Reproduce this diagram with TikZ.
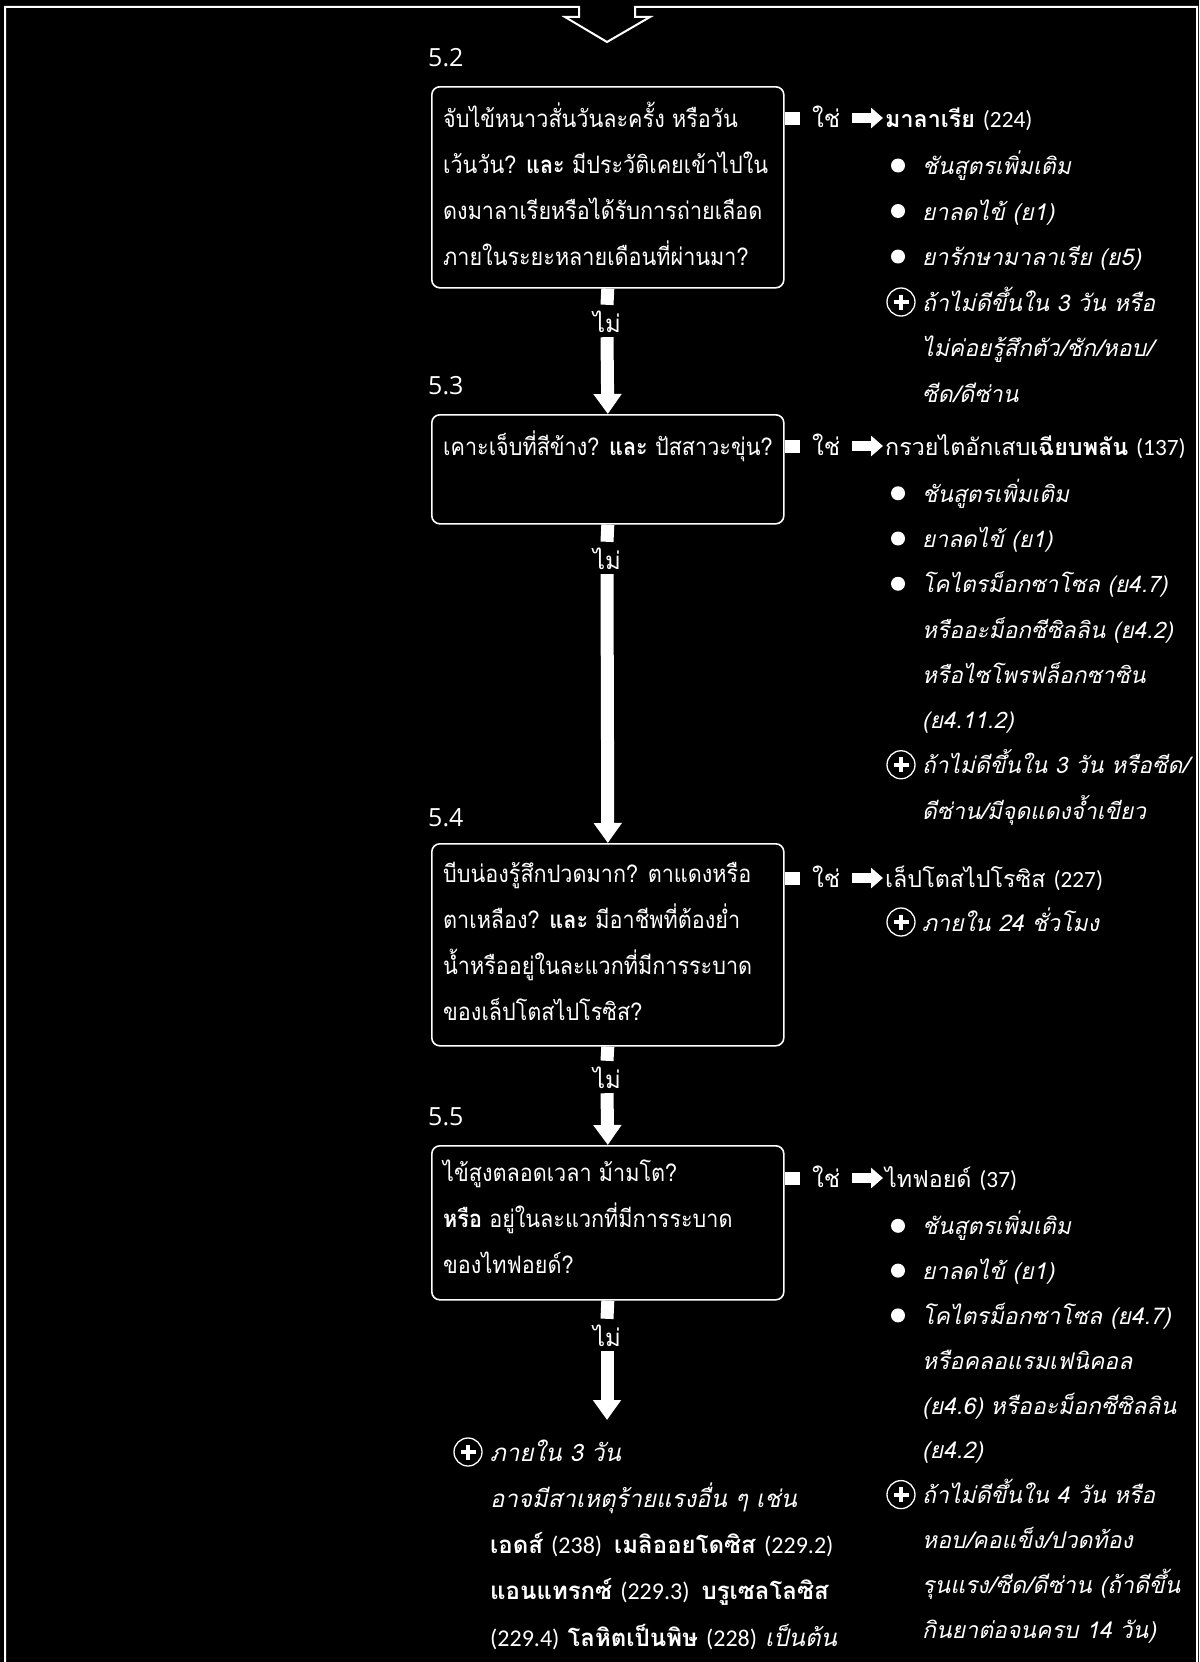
\documentclass[tikz,border=0pt]{standalone}
\usepackage{fontspec}
\setmainfont{Loma}[Script=Thai]
\newfontfamily\boxfont{Loma}[Script=Thai,FakeStretch=0.9]
\newfontfamily\numfont{Carlito}
\newfontfamily\secfont{Open Sans}
\usetikzlibrary{arrows.meta}

\newcommand\bodyfont{\fontsize{24}{46}\selectfont}
\newcommand\headfont{\fontsize{23.3}{46}\selectfont}
\newcommand\qfont{\boxfont\fontsize{24}{46}\selectfont}
\newcommand\nref[1]{{\numfont\upshape\mdseries #1}}
\newcommand\stack[2]{\parbox[t]{#1}{\raggedright #2}}

\begin{document}
\begin{tikzpicture}[x=1pt,y=-1pt,
  every node/.style={text=white,inner sep=0pt},
  ln/.style={anchor=west,text height=18pt,text depth=0pt},
  frameline/.style={draw=white,line width=2pt},
  qbox/.style={draw=white,line width=1.6pt,rounded corners=8pt,
    minimum width=352pt,anchor=north west},
  secno/.style={anchor=west,text height=17pt,text depth=0pt,
    font=\secfont\fontsize{25}{30}\selectfont},
  nolab/.style={font=\bodyfont,text height=22pt,text depth=0pt,inner ysep=5pt},
  yeslab/.style={ln,font=\bodyfont,inner xsep=12pt},
  shaft/.style={draw=white,line width=13pt},
  downarrow/.style={shaft,-{Triangle[width=27pt,length=20pt]}},
  yesarrow/.style={draw=white,line width=10pt,shorten >=2pt,
    -{Triangle[width=20pt,length=12pt]}},
  dot/.style={circle,fill=white,minimum size=14pt},
  plusmark/.style={circle,draw=white,line width=1.3pt,minimum size=28pt,
    path picture={\draw[white,line width=4pt]
      ([xshift=-7.5pt]path picture bounding box.center) -- ([xshift=7.5pt]path picture bounding box.center)
      ([yshift=-7.5pt]path picture bounding box.center) -- ([yshift=7.5pt]path picture bounding box.center);}},
  listA/.style={font=\fontsize{23}{45.5}\selectfont\itshape},
  listB/.style={font=\fontsize{22.7}{45.25}\selectfont\itshape},
  listD/.style={font=\fontsize{23}{44.8}\selectfont\itshape},
]
% page background and outer frame with the entry chevron
\fill[black] (0,0) rectangle (1199,1662);
\useasboundingbox (0,0) rectangle (1199,1662);
\draw[frameline] (5,1662) -- (5,7) -- (579,7) -- (579,17) -- (565,17) -- (607,42)
  -- (650,17) -- (635,17) -- (635,7) -- (1197,7) -- (1197,1662);

% question boxes
\node[qbox,minimum height=201pt] (q52) at (431,86) {};
\node[qbox,minimum height=109pt] (q53) at (431,414) {};
\node[qbox,minimum height=202pt] (q54) at (431,843) {};
\node[qbox,minimum height=154pt] (q55) at (431,1145) {};

% step numbers
\node[secno] (s52) at (428,58) {5.2};
\node[secno] (s53) at (428,386) {5.3};
\node[secno] (s54) at (428,818) {5.4};
\node[secno] (s55) at (428,1117) {5.5};

% question texts
\node[ln,font=\qfont] (t52) at (443,118) {\stack{400pt}{จับไข้หนาวสั่นวันละครั้ง หรือวัน\\
  เว้นวัน? \textbf{และ} มีประวัติเคยเข้าไปใน\\
  ดงมาลาเรียหรือได้รับการถ่ายเลือด\\
  ภายในระยะหลายเดือนที่ผ่านมา?}};
\node[ln,font=\qfont] (t53) at (443,446) {เคาะเจ็บที่สีข้าง? \textbf{และ} ปัสสาวะขุ่น?};
\node[ln,font=\qfont] (t54) at (443,873) {\stack{400pt}{บีบน่องรู้สึกปวดมาก? ตาแดงหรือ\\
  ตาเหลือง? \textbf{และ} มีอาชีพที่ต้องย่ำ\\
  น้ำหรืออยู่ในละแวกที่มีการระบาด\\
  ของเล็ปโตสไปโรซิส?}};
\node[ln,font=\qfont] (t55) at (443,1172) {\stack{400pt}{ไข้สูงตลอดเวลา ม้ามโต?\\
  \textbf{หรือ} อยู่ในละแวกที่มีการระบาด\\
  ของไทฟอยด์?}};

% "no" path down the middle
\node[nolab] (n52) at (607,321) {ไม่};
\node[nolab] (n53) at (607,558) {ไม่};
\node[nolab] (n54) at (607,1077) {ไม่};
\node[nolab] (n55) at (607,1335) {ไม่};
\coordinate (nend) at (607,1420);
\draw[shaft] (q52.south) -- (n52.north);
\draw[downarrow] (n52.south) -- (q53.north);
\draw[shaft] (q53.south) -- (n53.north);
\draw[downarrow] (n53.south) -- (q54.north);
\draw[shaft] (q54.south) -- (n54.north);
\draw[downarrow] (n54.south) -- (q55.north);
\draw[shaft] (q55.south) -- (n55.north);
\draw[downarrow] (n55.south) -- (nend);

% "yes" branches
\node[yeslab] (y52) at (800,118) {ใช่};
\node[yeslab] (y53) at (800,446) {ใช่};
\node[yeslab] (y54) at (800,878) {ใช่};
\node[yeslab] (y55) at (800,1178) {ใช่};
\node[ln,font=\headfont] (h52) at (885,118) {\textbf{มาลาเรีย} \nref{(224)}};
\node[ln,font=\headfont] (h53) at (885,446) {กรวยไตอักเสบ\textbf{เฉียบพลัน} \nref{(137)}};
\node[ln,font=\headfont] (h54) at (885,878) {เล็ปโตสไปโรซิส \nref{(227)}};
\node[ln,font=\headfont] (h55) at (885,1178) {ไทฟอยด์ \nref{(37)}};
\foreach \k in {52,53,54,55}{
  \draw[shaft] (y\k.west -| q\k.east) -- (y\k.west);
  \draw[yesarrow] (y\k.east) -- (y\k.east -| h\k.west);
}

% advice list for 5.2
\begin{scope}[every node/.append style={listA}]
\node[dot] (d521) at (898,165.5) {};
\node[ln] (i521) at (922,165.5) {ชันสูตรเพิ่มเติม};
\node[dot] (d522) at (898,211) {};
\node[ln] (i522) at (922,211) {ยาลดไข้ (ย1)};
\node[dot] (d523) at (898,256.5) {};
\node[ln] (i523) at (922,256.5) {ยารักษามาลาเรีย (ย5)};
\node[plusmark] (p52) at (901,302) {};
\node[ln] (i524) at (922,302) {\stack{330pt}{ถ้าไม่ดีขึ้นใน 3 วัน หรือ\\
  ไม่ค่อยรู้สึกตัว/ชัก/หอบ/\\ซีด/ดีซ่าน}};
\end{scope}

% advice list for 5.3
\begin{scope}[every node/.append style={listB}]
\node[dot] (d531) at (898,493.25) {};
\node[ln] (i531) at (922,493.25) {ชันสูตรเพิ่มเติม};
\node[dot] (d532) at (898,538.5) {};
\node[ln] (i532) at (922,538.5) {ยาลดไข้ (ย1)};
\node[dot] (d533) at (898,583.75) {};
\node[ln] (i533) at (922,583.75) {\stack{330pt}{โคไตรม็อกซาโซล (ย4.7)\\
  หรืออะม็อกซีซิลลิน (ย4.2)\\หรือไซโพรฟล็อกซาซิน\\(ย4.11.2)}};
\node[plusmark] (p53) at (901,764.75) {};
\node[ln] (i534) at (922,764.75) {\stack{330pt}{ถ้าไม่ดีขึ้นใน 3 วัน หรือซีด/\\
  ดีซ่าน/มีจุดแดงจ้ำเขียว}};
\end{scope}

% advice list for 5.4
\node[plusmark] (p54) at (901,922) {};
\node[ln,listA] (i541) at (922,922) {ภายใน 24 ชั่วโมง};

% advice list for 5.5
\begin{scope}[every node/.append style={listD}]
\node[dot] (d551) at (898,1225.8) {};
\node[ln] (i551) at (922,1225.8) {ชันสูตรเพิ่มเติม};
\node[dot] (d552) at (898,1270.6) {};
\node[ln] (i552) at (922,1270.6) {ยาลดไข้ (ย1)};
\node[dot] (d553) at (898,1315.4) {};
\node[ln] (i553) at (922,1315.4) {\stack{330pt}{โคไตรม็อกซาโซล (ย4.7)\\
  หรือคลอแรมเฟนิคอล\\(ย4.6) หรืออะม็อกซีซิลลิน\\(ย4.2)}};
\node[plusmark] (p55) at (901,1494.6) {};
\node[ln] (i554) at (922,1494.6) {\stack{330pt}{ถ้าไม่ดีขึ้นใน 4 วัน หรือ\\
  หอบ/คอแข็ง/ปวดท้อง\\รุนแรง/ซีด/ดีซ่าน (ถ้าดีขึ้น\\กินยาต่อจนครบ 14 วัน)}};
\end{scope}

% outcome when every answer is no
\node[plusmark] (pend) at (468,1452) {};
\node[ln,font=\fontsize{24}{46.25}\selectfont] (tend) at (490,1452) {\stack{380pt}{\textit{ภายใน 3 วัน}\\
  \textit{อาจมีสาเหตุร้ายแรงอื่น ๆ เช่น}\\
  \textbf{เอดส์} \nref{(238)}\enspace\textbf{เมลิออยโดซิส} \nref{(229.2)}\\
  \textbf{แอนแทรกซ์} \nref{(229.3)}\enspace\textbf{บรูเซลโลซิส}\\
  \nref{(229.4)} \textbf{โลหิตเป็นพิษ} \nref{(228)} \textit{เป็นต้น}}};
\end{tikzpicture}
\end{document}
